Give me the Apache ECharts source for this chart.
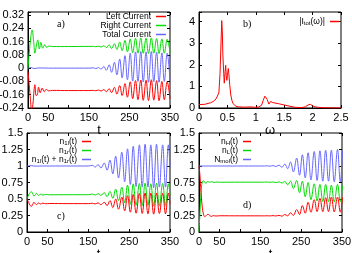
<!DOCTYPE html>
<html><head><meta charset="utf-8">
<script src="https://cdn.jsdelivr.net/npm/echarts@6.0.0/dist/echarts.min.js"></script>
<style>html,body{margin:0;padding:0;background:#fff}#c{width:352px;height:253px}</style>
</head><body><div id="c"></div><script>
// ---- times of the late oscillation extrema (peak, trough, ...) per panel ----
const tOscA = [161,167,174,180,187,193,200,206,213,219,226,232,239,245,252,258,265,271,278,284,291,297,304,310,317,323,330,336,343,350];
const tOscC = [160,167,174,181,189,196,203,210,217,224,232,239,246,253,260,267,275,282,289,296,303,310,317,324,332,339,346,350];
const tOscD = [167,174,181,188,196,203,210,217,224,231,239,246,253,260,267,274,282,289,296,303,310,317,324,331,339,346,353,357];

// ---- panel a: currents ----
const aLeftEarly = [[0,-0.02],[3,-0.1],[6,-0.19],[9,-0.25],[12,-0.22],[15,-0.13],[17,-0.1],[20,-0.165],[23,-0.16],[26,-0.115],[30,-0.148],[35,-0.12],[40,-0.142],[45,-0.128],[51,-0.137],[60,-0.134],[100,-0.135],[150,-0.135]];
const aLeftOsc = [-0.134,-0.136,-0.132,-0.138,-0.129,-0.142,-0.124,-0.148,-0.116,-0.156,-0.105,-0.165,-0.093,-0.175,-0.082,-0.184,-0.075,-0.19,-0.072,-0.194,-0.073,-0.195,-0.07,-0.193,-0.075,-0.196,-0.08,-0.19,-0.082,-0.186];
const aRightEarly = [[0,0.0],[3,0.09],[7,0.19],[10,0.23],[14,0.16],[17,0.09],[21,0.14],[24,0.17],[28,0.115],[32,0.155],[36,0.12],[41,0.14],[46,0.126],[52,0.133],[60,0.13],[100,0.13],[150,0.131]];
const aRightOsc = [0.131,0.129,0.132,0.127,0.135,0.124,0.14,0.118,0.147,0.112,0.157,0.105,0.167,0.098,0.175,0.093,0.18,0.09,0.182,0.089,0.18,0.088,0.182,0.09,0.178,0.088,0.176,0.09,0.174,0.094];
const aTotalEarly = [[0,0],[8,0.004],[15,-0.003],[25,0.001],[60,0],[150,0]];
const aTotalOsc = [0.002,-0.003,0.004,-0.006,0.01,-0.013,0.02,-0.025,0.035,-0.04,0.055,-0.058,0.075,-0.07,0.09,-0.078,0.098,-0.08,0.1,-0.083,0.098,-0.085,0.1,-0.082,0.097,-0.085,0.092,-0.08,0.09,-0.075];

// ---- panel b: spectrum ----
const bOmega = [0,0.1,0.2,0.25,0.3,0.33,0.35,0.37,0.39,0.4,0.41,0.42,0.435,0.445,0.46,0.47,0.48,0.49,0.5,0.515,0.525,0.54,0.56,0.58,0.6,0.62,0.65,0.7,0.8,0.9,1.0,1.05,1.1,1.13,1.16,1.18,1.2,1.23,1.26,1.3,1.4,1.5,1.6,1.7,1.8,1.87,1.92,1.96,2.0,2.05,2.1,2.2,2.5];
const bAmp = [0.16,0.17,0.24,0.3,0.42,0.5,0.7,1.6,3.2,4.05,3.6,2.5,1.6,1.15,1.7,1.98,1.5,1.28,1.5,1.83,1.6,1.1,0.6,0.35,0.2,0.12,0.08,0.05,0.04,0.05,0.03,0.05,0.12,0.35,0.55,0.58,0.4,0.18,0.3,0.25,0.2,0.14,0.08,0.03,0.02,0.05,0.14,0.17,0.1,0.05,0.03,0.01,0.0];

// ---- panel c ----
const cLEarly = [[0,0.5],[4,0.45],[8,0.4],[11,0.39],[14,0.42],[17,0.45],[20,0.43],[23,0.415],[28,0.44],[33,0.425],[39,0.437],[46,0.428],[55,0.432],[100,0.43],[150,0.43]];
const cLOsc = [0.435,0.425,0.44,0.415,0.45,0.4,0.475,0.37,0.5,0.345,0.53,0.32,0.55,0.3,0.57,0.285,0.585,0.28,0.59,0.275,0.59,0.27,0.59,0.28,0.585,0.275,0.59,0.42];
const cREarly = [[0,0.5],[4,0.56],[8,0.6],[11,0.61],[14,0.58],[17,0.545],[20,0.56],[23,0.585],[28,0.555],[33,0.572],[39,0.56],[46,0.568],[55,0.564],[100,0.565],[150,0.565]];
const cROsc = [0.575,0.56,0.58,0.555,0.595,0.535,0.615,0.51,0.65,0.475,0.68,0.44,0.71,0.42,0.73,0.405,0.735,0.4,0.74,0.405,0.73,0.4,0.74,0.4,0.735,0.405,0.73,0.56];
const cSEarly = [[0,1],[10,1.005],[20,0.998],[40,1],[150,1]];
const cSOsc = [1.01,0.985,1.02,0.97,1.045,0.935,1.09,0.88,1.15,0.82,1.21,0.76,1.26,0.72,1.3,0.69,1.32,0.68,1.33,0.68,1.32,0.67,1.33,0.68,1.32,0.68,1.32,0.98];

// ---- panel d ----
const dHEarly = [[0,1],[2,0.88],[5,0.6],[8,0.38],[11,0.27],[14,0.235],[18,0.25],[22,0.27],[26,0.25],[30,0.236],[35,0.248],[42,0.242],[50,0.246],[100,0.245],[150,0.245],[160,0.245]];
const dHOsc = [0.246,0.244,0.248,0.243,0.252,0.24,0.265,0.245,0.29,0.25,0.34,0.265,0.4,0.285,0.45,0.3,0.49,0.31,0.51,0.31,0.52,0.31,0.53,0.305,0.53,0.3,0.53,0.45];
const dLEarly = [[0,0],[2,0.25],[5,0.6],[8,0.76],[11,0.775],[14,0.755],[17,0.735],[21,0.765],[26,0.755],[31,0.762],[37,0.75],[44,0.757],[52,0.754],[100,0.755],[150,0.755],[160,0.755]];
const dLOsc = [0.757,0.753,0.758,0.749,0.76,0.742,0.765,0.715,0.77,0.66,0.78,0.595,0.77,0.535,0.75,0.49,0.73,0.47,0.72,0.46,0.72,0.46,0.71,0.455,0.72,0.46,0.71,0.62];
const dNEarly = [[0,1],[160,1]];
const dNOsc = [1.003,0.997,1.006,0.992,1.012,0.982,1.03,0.96,1.06,0.91,1.12,0.86,1.17,0.82,1.2,0.79,1.22,0.78,1.23,0.77,1.24,0.77,1.24,0.76,1.25,0.76,1.24,1.07];

// ---- tick labels ----
const tLabels = [0,50,150,250,350];
const aYLabels = [-0.24,-0.16,-0.08,0,0.08,0.16,0.24,0.32];
const bXLabels = [0,0.5,1,1.5,2,2.5];
const bYLabels = [0,1,2,3,4];
const cdYLabels = [0,0.25,0.5,0.75,1,1.25,1.5];

const RED = '#ff0000', GREEN = '#00dd00', BLUE = '#6666ff';
const FONT = 'Liberation Sans';

function join(early, times, osc){ return early.concat(times.map((t,i)=>[t, osc[i]])); }
function fmt(list){
  return v => {
    if (!list.some(l => Math.abs(l - v) < 1e-6)) return '';
    if (Math.abs(v) < 1e-9) return '0';
    return String(+v.toFixed(2));
  };
}
const tick = {show:true, inside:true, length:3, lineStyle:{color:'#000'}};
function xAx(g, min, max, interval, labels, name, gap){
  return {type:'value', gridIndex:g, min, max, interval, name, nameLocation:'middle', nameGap:gap,
    nameTextStyle:{color:'#000', fontSize:13, fontFamily:FONT},
    axisLine:{show:true, onZero:false, lineStyle:{color:'#000', width:1}},
    axisTick:tick,
    axisLabel:{color:'#000', fontSize:11, fontFamily:FONT, margin:4, formatter:fmt(labels)},
    splitLine:{show:false}};
}
function yAx(g, min, max, interval, labels){
  return {type:'value', gridIndex:g, min, max, interval,
    axisLine:{show:true, onZero:false, lineStyle:{color:'#000', width:1}},
    axisTick:tick,
    axisLabel:{color:'#000', fontSize:11, fontFamily:FONT, margin:4, formatter:fmt(labels)},
    splitLine:{show:false}};
}
function mirrorX(g, min, max, interval){
  return {type:'value', gridIndex:g, min, max, interval, position:'top',
    axisLine:{show:false, onZero:false}, axisLabel:{show:false}, splitLine:{show:false}, axisTick:tick};
}
function mirrorY(g, min, max, interval){
  return {type:'value', gridIndex:g, min, max, interval, position:'right',
    axisLine:{show:false, onZero:false}, axisLabel:{show:false}, splitLine:{show:false}, axisTick:tick};
}
function line(name, g, data, color, smooth){
  return {type:'line', name, xAxisIndex:g, yAxisIndex:g, data, showSymbol:false, symbol:'none',
    smooth: smooth, clip:true, color, lineStyle:{color, width:1}};
}
const rich = {
  n:{fontSize:8.5, fontFamily:FONT, color:'#000', lineHeight:9},
  s:{fontSize:6, fontFamily:FONT, color:'#000', verticalAlign:'bottom', lineHeight:9, padding:[3,0,0,0]}
};
const legendNames = {
  'Left Current':'{n|Left Current}', 'Right Current':'{n|Right Current}', 'Total Current':'{n|Total Current}',
  'Itot':'{n||I}{s|tot}{n|(ω)|}',
  'n1l':'{n|n}{s|1l}{n|(t)}', 'n1r':'{n|n}{s|1r}{n|(t)}', 'nsum':'{n|n}{s|1l}{n|(t) + n}{s|1r}{n|(t)}',
  'nH':'{n|n}{s|H}{n|(t)}', 'nL':'{n|n}{s|L}{n|(t)}', 'Nmol':'{n|N}{s|mol}{n|(t)}'
};
function leg(names, right, top, iw){
  return {data:names, orient:'vertical', align:'right', right, top, padding:0, itemGap:0,
    itemWidth:iw, itemHeight:1.5, icon:'rect', selectedMode:false,
    formatter: n => legendNames[n], textStyle:{fontSize:8.5, fontFamily:FONT, color:'#000', lineHeight:9, rich}};
}
const ttl = (text, left, top) => ({text, left, top, padding:0,
  textStyle:{fontFamily:'Liberation Serif', fontSize:10, fontWeight:'normal', color:'#000'}});

const grids = [
  {left:28, top:12, width:142, height:96},
  {left:199, top:12, width:142, height:96},
  {left:27, top:133, width:143, height:99},
  {left:199, top:133, width:143, height:99}
].map(g => Object.assign(g, {show:true, borderColor:'#000', borderWidth:1, backgroundColor:'transparent', outerBoundsMode:'none', containLabel:false}));

const option = {
  animation:false,
  backgroundColor:'#fff',
  title:[ttl('a)',57,19), ttl('b)',243,19), ttl('c)',57,211), ttl('d)',243,200)],
  grid: grids,
  xAxis:[
    xAx(0,0,350,50,tLabels,'t',10),
    xAx(1,0,2.5,0.5,bXLabels,'ω',11),
    xAx(2,0,350,50,tLabels,'t',11),
    xAx(3,0,350,50,tLabels,'t',11),
    mirrorX(0,0,350,50), mirrorX(1,0,2.5,0.5), mirrorX(2,0,350,50), mirrorX(3,0,350,50)
  ],
  yAxis:[
    yAx(0,-0.24,0.338,0.08,aYLabels),
    yAx(1,0,4.45,1,bYLabels),
    yAx(2,0,1.5,0.25,cdYLabels),
    yAx(3,0,1.5,0.25,cdYLabels),
    mirrorY(0,-0.24,0.338,0.08), mirrorY(1,0,4.45,1), mirrorY(2,0,1.5,0.25), mirrorY(3,0,1.5,0.25)
  ],
  legend:[
    leg(['Left Current','Right Current','Total Current'], 186, 12, 10),
    leg(['Itot'], 13, 17, 9),
    leg(['n1l','n1r','nsum'], 261, 137, 9),
    leg(['nH','nL','Nmol'], 101, 137, 8)
  ],
  series:[
    line('Total Current',0,join(aTotalEarly,tOscA,aTotalOsc),BLUE,0.4),
    line('Right Current',0,join(aRightEarly,tOscA,aRightOsc),GREEN,0.4),
    line('Left Current',0,join(aLeftEarly,tOscA,aLeftOsc),RED,0.4),
    line('Itot',1,bOmega.map((w,i)=>[w,bAmp[i]]),RED,false),
    line('nsum',2,join(cSEarly,tOscC,cSOsc),BLUE,0.4),
    line('n1r',2,join(cREarly,tOscC,cROsc),GREEN,0.4),
    line('n1l',2,join(cLEarly,tOscC,cLOsc),RED,0.4),
    line('Nmol',3,join(dNEarly,tOscD,dNOsc),BLUE,0.4),
    line('nL',3,join(dLEarly,tOscD,dLOsc),GREEN,0.4),
    line('nH',3,join(dHEarly,tOscD,dHOsc),RED,0.4)
  ]
};
const chart = echarts.init(document.getElementById('c'), null, {renderer:'canvas'});
chart.setOption(option);
</script></body></html>
